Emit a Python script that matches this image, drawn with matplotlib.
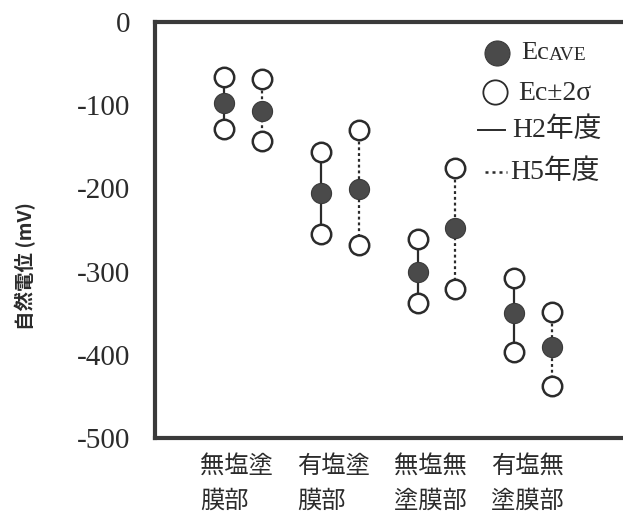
import matplotlib
matplotlib.use("Agg")
import matplotlib.pyplot as plt
import numpy as np

plt.rcParams['axes.unicode_minus'] = False

# 自然電位 (mV): mean and ±2σ for each part, survey H2 and H5
categories = ["無塩塗\n膜部", "有塩塗\n膜部", "無塩無\n塗膜部", "有塩無\n塗膜部"]
h2_ave = [-97, -206, -300, -350]
h2_upper = [-66, -156, -261, -308]
h2_lower = [-129, -255, -338, -397]
h5_ave = [-107, -201, -248, -391]
h5_upper = [-69, -130, -175, -349]
h5_lower = [-143, -268, -321, -438]
yticks = [0, -100, -200, -300, -400, -500]

INK = '#2b2b2b'
FILL = '#4a4a4a'
DOTS = (0, (1.3, 1.3))
serif_jp = ['Liberation Serif', 'Noto Sans CJK JP']

W, H = 623, 513
fig = plt.figure(figsize=(W / 100, H / 100), dpi=100)
ax = fig.add_axes([155 / W, 75 / H, 475 / W, 416 / H])

x = np.arange(len(categories))
offset = 0.195


def draw_series(xs, ave, upper, lower, ls):
    for xi, a, u, l in zip(xs, ave, upper, lower):
        ax.plot([xi, xi], [u, l], color=INK, lw=1.6, ls=ls, zorder=1)
    ax.plot(xs, upper, 'o', ms=14, mfc='white', mec=INK, mew=1.8, ls='none', zorder=3)
    ax.plot(xs, lower, 'o', ms=14, mfc='white', mec=INK, mew=1.8, ls='none', zorder=3)
    ax.plot(xs, ave, 'o', ms=14.5, mfc=FILL, mec='#3a3a3a', mew=0.8, ls='none', zorder=3)


draw_series(x - offset, h2_ave, h2_upper, h2_lower, '-')
draw_series(x + offset, h5_ave, h5_upper, h5_lower, DOTS)

ax.set_xlim(-0.91, 4.0)
ax.set_ylim(-500, 0)
ax.set_yticks(yticks)
ax.set_yticklabels([str(v) for v in yticks], fontfamily='Liberation Serif',
                   fontsize=21, color=INK)
ax.tick_params(axis='y', length=0, pad=18)
ax.set_xticks([])

for s in ['left', 'top', 'bottom']:
    ax.spines[s].set_linewidth(3)
    ax.spines[s].set_color('#3a3a3a')
ax.spines['right'].set_visible(False)

# category labels under the axis
for xi, lab in zip(x, categories):
    ax.text(xi - 0.065, -518, lab, ha='center', va='top', multialignment='left',
            fontfamily='Noto Sans CJK JP', fontsize=17.5, color=INK,
            linespacing=1.45)

fig.text(25 / W, 1 - 266 / H, "自然電位 (mV)", rotation=90, ha='center', va='center',
         fontfamily='Noto Sans CJK JP', fontweight='bold', fontsize=14, color=INK)


def fx(px):
    return px / W


def fy(py):
    return 1 - py / H


# legend
fig.lines.append(plt.Line2D([fx(497)], [fy(53)], marker='o', ms=18, mfc=FILL,
                            mec='#3a3a3a', mew=0.8, transform=fig.transFigure))
t1 = fig.text(fx(521), fy(53), "Ec", ha='left', va='center', fontfamily='Liberation Serif',
              fontsize=19, color=INK)
ax.annotate("AVE", xy=(1, 0), xycoords=t1, ha='left', va='bottom',
            fontfamily='Liberation Serif', fontsize=14, color=INK)
fig.lines.append(plt.Line2D([fx(495)], [fy(92)], marker='o', ms=17.5, mfc='white',
                            mec=INK, mew=1.3, transform=fig.transFigure))
fig.text(fx(518), fy(93), "Ec±2σ", ha='left', va='center', fontfamily='Liberation Serif',
         fontsize=20, color=INK)
fig.lines.append(plt.Line2D([fx(478), fx(505)], [fy(130), fy(130)], color=INK, lw=1.4,
                            transform=fig.transFigure))
fig.text(fx(512), fy(130), "H2年度", ha='left', va='center', fontfamily=serif_jp,
         fontsize=20, color=INK)
fig.lines.append(plt.Line2D([fx(485), fx(507)], [fy(172), fy(172)], color=INK, lw=1.8,
                            ls=(0, (1.2, 1.6)), transform=fig.transFigure))
fig.text(fx(510), fy(172), "H5年度", ha='left', va='center', fontfamily=serif_jp,
         fontsize=20, color=INK)

fig.savefig('out.png', dpi=100)
